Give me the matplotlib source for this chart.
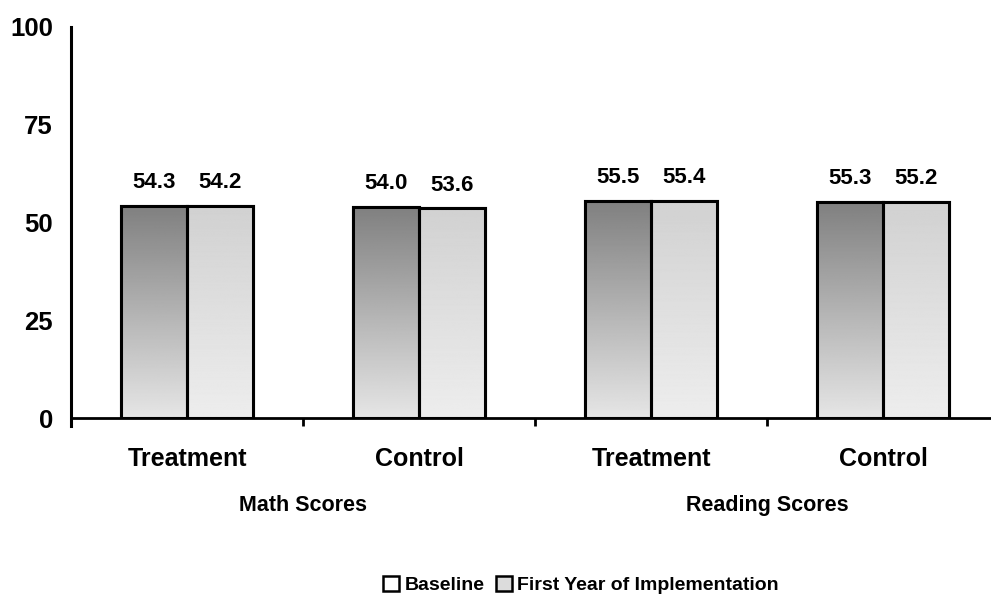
import matplotlib
matplotlib.use("Agg")
import matplotlib.pyplot as plt
import numpy as np
from matplotlib.patches import Patch

categories = ["Treatment", "Control", "Treatment", "Control"]
groups = ["Math Scores", "Reading Scores"]
baseline = [54.3, 54.0, 55.5, 55.3]
first_year = [54.2, 53.6, 55.4, 55.2]
series_names = ["Baseline", "First Year of Implementation"]
yticks = [0, 25, 50, 75, 100]

plt.rcParams['font.family'] = ['Liberation Sans', 'DejaVu Sans']
plt.rcParams['font.weight'] = 'bold'

W, H = 991, 603
fig = plt.figure(figsize=(W / 100, H / 100), dpi=100)
ax = fig.add_axes([71 / W, 185 / H, 920 / W, 391 / H])

x = np.arange(len(categories)) + 0.5
bw = 0.285

b1 = ax.bar(x - bw / 2, baseline, bw, color="#9a9a9a", edgecolor="black", linewidth=2.2, zorder=3)
b2 = ax.bar(x + bw / 2, first_year, bw, color="#e0e0e0", edgecolor="black", linewidth=2.2, zorder=3)

# gradient fills clipped to bars (scanned look)
grad = np.linspace(0, 1, 256).reshape(-1, 1)
for bars, top, bot in [(b1, 0.50, 0.90), (b2, 0.82, 0.93)]:
    for r in bars:
        x0, y0 = r.get_x(), r.get_y()
        w, h = r.get_width(), r.get_height()
        vals = bot + (top - bot) * grad
        im = ax.imshow(vals, cmap="gray", vmin=0, vmax=1, aspect="auto",
                       extent=[x0, x0 + w, y0, y0 + h], origin="lower", zorder=3.5)
        im.set_clip_path(r)
        ax.add_patch(plt.Rectangle((x0, y0), w, h, fill=False, edgecolor="black",
                                   linewidth=2.2, zorder=4))

for bars, vals in [(b1, baseline), (b2, first_year)]:
    for r, v in zip(bars, vals):
        ax.text(r.get_x() + r.get_width() / 2, v + 3.3, f"{v:.1f}", ha="center", va="bottom",
                fontsize=16, fontweight="bold")

ax.set_xlim(0, 920 / 232)
ax.set_ylim(0, 100)
ax.set_yticks(yticks)
ax.set_yticklabels([str(t) for t in yticks], fontsize=18.5, fontweight="bold")
ax.tick_params(axis="y", length=0, pad=13)
ax.set_xticks([1, 2, 3])
ax.set_xticklabels([])
ax.tick_params(axis="x", length=6, width=2, direction="out")
for s in ["top", "right"]:
    ax.spines[s].set_visible(False)
ax.spines["left"].set_linewidth(2.2)
ax.spines["bottom"].set_linewidth(2)
ax.spines["left"].set_bounds(-2, 100)

for xi, c in zip(x, categories):
    ax.text(xi, -7.5, c, ha="center", va="top", fontsize=18, fontweight="bold", clip_on=False)
for i, g in enumerate(groups):
    ax.text(2 * i + 1, -19.8, g, ha="center", va="top", fontsize=15.5, fontweight="bold",
            clip_on=False)

handles = [Patch(facecolor="white", edgecolor="black", linewidth=1.8),
           Patch(facecolor="#dcdcdc", edgecolor="black", linewidth=1.8)]
fig.legend(handles, series_names, loc="center", bbox_to_anchor=(581 / W, 1 - 585 / H),
           ncol=2, frameon=False, fontsize=14, handlelength=0.8, handleheight=0.8,
           handletextpad=0.3, columnspacing=0.6, borderpad=0)

fig.savefig("out.png", dpi=100)
